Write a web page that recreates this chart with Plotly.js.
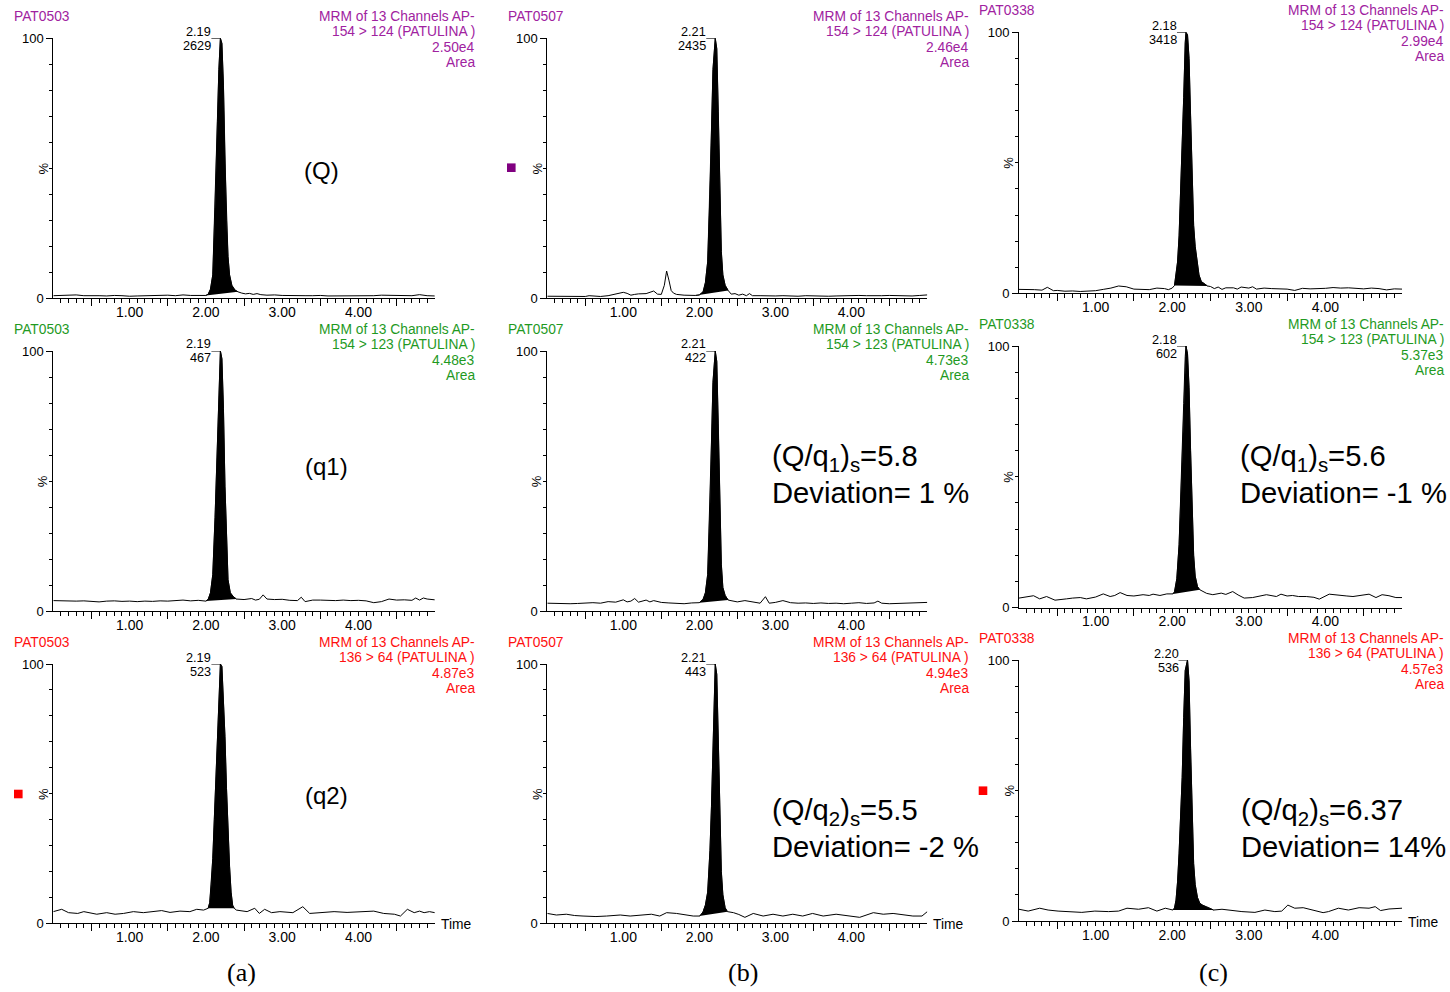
<!DOCTYPE html>
<html><head><meta charset="utf-8">
<script src="https://cdn.plot.ly/plotly-3.0.1.min.js"></script>
<style>html,body{margin:0;padding:0;background:#fff}#chart{width:1450px;height:992px}</style>
</head><body><div id="chart"></div>
<script>
// ---------- DATA ----------
const sampleNames = ['PAT0503', 'PAT0507', 'PAT0338'];
const channelLabels = ['154 > 124 (PATULINA )', '154 > 123 (PATULINA )', '136 > 64 (PATULINA )'];
const headerLine = 'MRM of 13 Channels AP-';
const areas = [['2.50e4', '2.46e4', '2.99e4'], ['4.48e3', '4.73e3', '5.37e3'], ['4.87e3', '4.94e3', '4.57e3']];
const peakRT = [[2.19, 2.21, 2.18], [2.19, 2.21, 2.18], [2.19, 2.21, 2.20]];
const peakHeight = [[2629, 2435, 3418], [467, 422, 602], [523, 443, 536]];
const xTickVals = [1, 2, 3, 4];
const xTickText = ['1.00', '2.00', '3.00', '4.00'];
const panelLetters = ['(a)', '(b)', '(c)'];
const ionLabels = ['(Q)', '(q1)', '(q2)'];
const ratioText = [[null, '(Q/q<sub>1</sub>)<sub>s</sub>=5.8', '(Q/q<sub>1</sub>)<sub>s</sub>=5.6'],
                   [null, '(Q/q<sub>2</sub>)<sub>s</sub>=5.5', '(Q/q<sub>2</sub>)<sub>s</sub>=6.37']];
const deviationText = [[null, 'Deviation= 1 %', 'Deviation= -1 %'], [null, 'Deviation= -2 %', 'Deviation= 14%']];

// row 1 (154>124)
const t_aQ = [0,0.1,0.2,0.3,0.4,0.5,0.6,0.7,0.8,0.9,1.0,1.1,1.2,1.3,1.4,1.5,1.6,1.7,1.8,1.9,2.0,
  2.03,2.06,2.09,2.12,2.15,2.17,2.19,2.21,2.23,2.25,2.27,2.29,2.31,2.34,2.38,2.42,2.47,2.52,2.57,2.62,2.67,2.72,
  2.8,2.9,3.0,3.1,3.2,3.3,3.4,3.5,3.6,3.7,3.8,3.9,4.0,4.1,4.2,4.3,4.4,4.5,4.6,4.7,4.8,4.9,5.0];
const y_aQ = [1.0,1.1,1.0,1.3,1.0,1.1,1.0,0.9,1.1,1.0,0.8,0.9,1.0,1.1,1.0,1.2,1.0,1.3,1.1,1.2,1.1,
  1.6,3.5,9,35,68,88,100,98,82,52,30,16,9,5,3.2,2.5,2.0,1.7,1.9,1.5,1.8,1.4,
  1.2,1.3,1.1,1.0,1.1,1.0,1.0,1.1,0.9,0.9,1.0,1.1,0.9,1.1,1.0,1.2,1.1,1.0,1.1,1.0,1.4,1.0,0.9];
const fill_aQ = [2.0, 2.42];

const t_bQ = [0,0.1,0.2,0.3,0.4,0.5,0.55,0.6,0.7,0.8,0.9,0.95,1.0,1.05,1.1,1.15,1.2,1.3,1.35,1.4,1.45,1.5,
  1.54,1.57,1.6,1.63,1.66,1.7,1.8,1.9,1.95,2.0,2.05,2.08,2.11,2.14,2.16,2.18,2.21,2.23,2.25,2.27,2.29,2.31,2.34,2.38,2.42,
  2.47,2.52,2.57,2.62,2.66,2.7,2.8,2.9,3.0,3.1,3.2,3.3,3.4,3.5,3.6,3.7,3.8,3.9,4.0,4.1,4.2,4.3,4.4,4.5,4.6,4.7,4.8,4.9,5.0];
const y_bQ = [0.8,0.8,0.7,0.8,0.7,0.7,1.0,0.9,0.7,1.0,1.6,1.9,2.3,1.9,1.2,1.5,1.7,1.8,2.2,2.8,1.6,1.5,
  5,10.5,7,3,2,1.5,1.2,1.1,1.1,1.3,2.5,6,14,40,65,88,100,96,72,42,18,9,5,3,1.6,
  1.8,1.2,1.6,1.0,1.8,1.0,1.0,0.9,0.9,1.0,0.9,0.8,1.0,0.9,1.0,0.8,0.9,1.0,1.0,1.1,1.0,0.9,1.0,1.1,1.0,1.0,0.9,1.1,1.3];
const fill_bQ = [1.95, 2.38];

const t_cQ = [0,0.1,0.2,0.3,0.37,0.45,0.5,0.6,0.7,0.8,0.9,1.0,1.1,1.2,1.3,1.4,1.5,1.6,1.7,1.8,1.9,1.95,2.0,
  2.03,2.05,2.07,2.09,2.11,2.13,2.15,2.17,2.18,2.20,2.22,2.24,2.26,2.28,2.30,2.32,2.35,2.38,2.42,2.46,2.5,
  2.55,2.6,2.65,2.7,2.8,2.85,2.9,3.0,3.05,3.1,3.2,3.3,3.4,3.5,3.6,3.7,3.8,3.9,4.0,4.1,4.2,4.3,4.4,4.5,4.6,4.7,4.8,4.9,5.0];
const y_cQ = [1.5,1.5,1.4,1.2,2.3,1.0,1.1,0.8,0.9,0.7,0.8,1.0,1.5,2.0,2.8,2.5,1.6,1.6,1.4,2.0,1.8,1.4,2.0,
  3,7,12,22,38,52,75,96,100,99,90,68,46,26,18,13,7,4.5,3.5,2.8,2.6,
  1.8,2.4,1.5,2.1,2.1,1.6,2.4,2.0,2.5,1.6,2.0,1.8,1.8,1.6,1.1,1.9,1.7,1.7,1.9,2.2,2.0,2.1,1.8,1.7,2.0,1.8,1.3,1.7,1.6];
const fill_cQ = [2.03, 2.46];

// row 2 (154>123)
const t_aq1 = [0,0.1,0.2,0.3,0.4,0.5,0.6,0.7,0.8,0.9,1.0,1.1,1.2,1.3,1.4,1.5,1.6,1.7,1.8,1.9,2.0,
  2.03,2.06,2.09,2.12,2.15,2.17,2.19,2.21,2.23,2.25,2.27,2.29,2.32,2.36,2.4,
  2.5,2.6,2.65,2.7,2.75,2.8,2.9,3.0,3.1,3.2,3.25,3.3,3.4,3.5,3.6,3.7,3.8,3.9,4.0,4.1,4.2,4.3,4.4,4.5,4.6,4.7,4.75,4.8,4.85,4.9,5.0];
const y_aq1 = [4.0,3.9,4.0,3.8,3.9,3.7,3.5,3.8,3.9,3.7,3.8,3.6,3.8,3.7,3.9,3.8,3.9,4.2,3.9,4.1,3.8,
  4.5,7,14,36,66,88,100,97,78,48,25,12,7,5.5,4.6,
  4.4,4.8,4.2,4.5,6.2,4.6,4.4,4.5,4.1,4.0,5.3,3.6,4.2,4.2,4.1,4.0,4.2,4.0,4.1,3.9,3.2,3.6,4.6,4.2,4.3,4.1,5.0,4.2,5.0,4.6,4.3];
const fill_aq1 = [2.0, 2.4];

const t_bq1 = [0,0.1,0.2,0.3,0.4,0.5,0.6,0.7,0.8,0.9,1.0,1.05,1.1,1.15,1.2,1.3,1.35,1.4,1.45,1.5,1.6,1.7,1.8,1.9,2.0,
  2.05,2.08,2.11,2.14,2.16,2.18,2.21,2.23,2.25,2.27,2.29,2.31,2.34,2.38,
  2.45,2.5,2.6,2.7,2.8,2.87,2.92,3.0,3.1,3.2,3.3,3.4,3.5,3.6,3.7,3.8,3.9,4.0,4.1,4.2,4.3,4.35,4.4,4.5,4.6,4.7,4.8,4.9,5.0];
const y_bq1 = [3.0,2.9,3.0,2.8,2.9,3.1,3.2,3.0,3.6,3.4,4.3,3.5,3.8,4.8,3.4,4.2,3.5,4.0,3.6,3.3,3.1,3.0,2.8,3.1,3.2,
  4.5,7,14,40,65,88,100,96,72,42,18,9,6,4.2,
  3.8,3.5,4.0,3.5,3.0,5.5,3.0,3.3,4.0,3.2,3.0,3.1,2.9,3.1,2.9,3.0,2.8,3.0,3.2,2.9,3.1,3.8,3.0,2.8,2.9,3.0,2.9,3.2,3.3];
const fill_bq1 = [2.0, 2.38];

const t_cq1 = [0,0.1,0.19,0.27,0.36,0.47,0.55,0.62,0.7,0.8,0.88,1.0,1.1,1.19,1.25,1.32,1.41,1.5,1.62,1.7,
  1.75,1.84,1.93,2.01,2.03,2.06,2.09,2.12,2.15,2.17,2.18,2.20,2.22,2.24,2.26,2.28,2.30,2.33,2.36,2.40,
  2.45,2.53,2.58,2.64,2.7,2.79,2.86,2.94,3.05,3.15,3.23,3.36,3.42,3.5,3.57,3.65,3.75,3.85,3.92,4.05,
  4.19,4.28,4.36,4.47,4.57,4.66,4.74,4.83,4.92,5.0];
const y_cq1 = [3.6,4.0,4.5,3.3,4.2,2.8,3.2,3.3,3.6,3.8,3.3,4.0,5.2,4.2,4.6,5.7,4.6,4.4,4.9,4.6,
  5.1,4.6,5.2,5.2,6,11,24,48,78,96,100,97,84,60,36,20,12,8,6.8,6.1,
  5.4,4.9,5.2,5.5,5.0,6.1,4.8,3.6,3.8,4.5,4.9,4.2,5.1,4.4,4.6,4.2,4.2,3.9,3.2,5.1,
  4.5,4.4,4.2,4.8,5.1,3.8,4.9,4.5,3.8,3.8];
const fill_cq1 = [2.01, 2.36];

// row 3 (136>64)
const t_aq2 = [0,0.11,0.2,0.32,0.4,0.57,0.7,0.81,0.92,1.05,1.18,1.29,1.42,1.53,1.66,1.79,1.88,1.97,2.03,2.05,
  2.07,2.09,2.11,2.13,2.15,2.17,2.19,2.21,2.23,2.25,2.27,2.29,2.31,2.33,2.35,2.37,2.4,2.54,2.64,2.7,
  2.77,2.86,2.97,3.14,3.27,3.36,3.5,3.68,3.85,4.03,4.2,4.33,4.47,4.55,4.64,4.73,4.8,4.86,4.93,5.0];
const y_aq2 = [4.5,5.4,4.1,3.8,4.5,3.5,4.1,3.5,3.8,4.5,4.1,4.5,4.9,4.2,4.7,4.5,5.4,5.1,5.8,8,
  15,25,40,55,72,90,100,99,88,72,52,36,22,12,7,5.8,5.1,4.5,5.8,3.8,
  5.4,4.1,4.5,4.1,6.4,3.8,4.1,4.5,4.2,4.5,4.7,3.8,3.5,2.8,5.4,4.1,4.7,4.1,4.5,4.1];
const fill_aq2 = [2.03, 2.37];

const t_bq2 = [0,0.12,0.25,0.36,0.47,0.64,0.78,0.96,1.09,1.22,1.37,1.48,1.57,1.7,1.83,1.92,2.0,2.02,2.05,2.08,
  2.11,2.14,2.16,2.18,2.20,2.21,2.23,2.25,2.27,2.29,2.31,2.34,2.37,2.45,2.52,2.6,2.71,2.84,2.97,3.1,
  3.23,3.36,3.49,3.63,3.8,3.98,4.11,4.29,4.42,4.55,4.68,4.81,4.93,5.0];
const y_bq2 = [3.8,3.2,3.5,3.0,2.8,2.6,2.8,3.2,2.8,3.2,3.5,2.8,4.1,3.8,3.2,2.8,2.8,3.2,4.5,7,
  12,28,45,70,92,100,96,70,40,20,11,6,4.5,4.1,3.4,2.3,3.8,2.8,3.5,2.8,
  3.5,2.8,3.8,2.8,3.5,2.8,2.3,4.1,3.5,3.8,3.2,2.8,2.8,4.5];
const fill_bq2 = [2.0, 2.37];

const t_cq2 = [0,0.12,0.27,0.38,0.51,0.64,0.82,0.99,1.17,1.3,1.41,1.56,1.69,1.8,1.91,2.01,2.03,2.05,2.07,2.09,
  2.11,2.13,2.15,2.17,2.20,2.22,2.24,2.26,2.28,2.30,2.33,2.36,2.40,2.45,2.50,2.54,2.65,2.78,2.91,3.08,
  3.21,3.34,3.43,3.51,3.6,3.71,3.82,3.97,4.04,4.17,4.3,4.44,4.57,4.65,4.72,4.83,5.0];
const y_cq2 = [4.5,3.8,4.9,4.2,3.8,3.6,3.3,3.8,3.6,3.8,4.9,4.5,5.1,3.8,4.9,4.2,5,8,15,26,
  40,55,78,96,100,92,66,40,22,14,9,6.8,6.0,5.4,4.6,4.2,4.5,4.0,3.6,3.3,
  4.2,3.6,3.8,6.1,4.9,5.1,4.2,3.2,3.6,4.9,4.2,5.1,4.9,5.5,4.0,4.6,4.9];
const fill_cq2 = [2.01, 2.54];

// ---------- LAYOUT GEOMETRY (pixels) ----------
const W = 1450, H = 992;
const SANS = 'Liberation Sans, Arial, sans-serif';
const SERIF = 'Liberation Serif, Times New Roman, serif';
const colX = [[53.3, 434.8], [547.3, 927.3], [1019, 1402]];
const rowYab = [[38.3, 298.3], [351, 611], [664, 923.3]];
const rowYc = [[32.3, 293.3], [346, 607.5], [660, 921]];
const headerRight = [475, 968.5, 1444];
const sampleLeft = [12, 506, 977];
const rowColors = ['#a0229f', '#1f9a1f', '#ff1010'];

const panels = [
  [[t_aQ, y_aQ, fill_aQ], [t_bQ, y_bQ, fill_bQ], [t_cQ, y_cQ, fill_cQ]],
  [[t_aq1, y_aq1, fill_aq1], [t_bq1, y_bq1, fill_bq1], [t_cq1, y_cq1, fill_cq1]],
  [[t_aq2, y_aq2, fill_aq2], [t_bq2, y_bq2, fill_bq2], [t_cq2, y_cq2, fill_cq2]]
];

const px = v => v / W;
const py = v => 1 - v / H;

const minorX = [];
for (let i = 1; i < 50; i++) minorX.push(+(i / 10).toFixed(1));
const longX = [0.5, 1.5, 2.5, 3.5, 4.5];
const minorY = [10, 20, 30, 40, 50, 60, 70, 80, 90];

const traces = [];
const layout = {
  width: W, height: H, margin: {l: 0, r: 0, t: 0, b: 0},
  paper_bgcolor: '#fff', plot_bgcolor: 'rgba(0,0,0,0)',
  showlegend: false, hovermode: false,
  annotations: [], shapes: []
};

for (let r = 0; r < 3; r++) {
  for (let c = 0; c < 3; c++) {
    const k = r * 3 + c + 1;
    const ko = k + 9;
    const [t, y, fl] = panels[r][c];
    const [x0, x1] = colX[c];
    const [top, bot] = (c === 2 ? rowYc : rowYab)[r];
    const xa = 'x' + k, ya = 'y' + k;

    traces.push({x: t, y: y, xaxis: xa, yaxis: ya, mode: 'lines',
      line: {color: '#000', width: 1}, hoverinfo: 'skip', cliponaxis: false});
    const ft = [], fy = [];
    for (let i = 0; i < t.length; i++) {
      if (t[i] >= fl[0] - 1e-9 && t[i] <= fl[1] + 1e-9) { ft.push(t[i]); fy.push(y[i]); }
    }
    traces.push({x: ft, y: fy, xaxis: xa, yaxis: ya, mode: 'lines', fill: 'toself',
      fillcolor: '#000', line: {color: '#000', width: 0.8}, hoverinfo: 'skip'});
    traces.push({x: [], y: [], xaxis: 'x' + ko, yaxis: ya, mode: 'lines', hoverinfo: 'skip'});

    layout['xaxis' + k] = {
      domain: [px(x0), px(x1)], anchor: ya, range: [0, 5],
      showline: true, linecolor: '#000', linewidth: 1, mirror: false,
      showgrid: false, zeroline: false, fixedrange: true,
      ticks: 'outside', ticklen: 4, tickwidth: 1, tickcolor: '#000',
      tickmode: 'array', tickvals: xTickVals, ticktext: xTickText, ticklabelstandoff: -3,
      tickfont: {family: SANS, size: 14, color: '#000'},
      minor: {tickmode: 'array', tickvals: minorX, ticks: 'outside', ticklen: 4, tickwidth: 1, tickcolor: '#000', showgrid: false}
    };
    layout['xaxis' + ko] = {
      overlaying: xa, anchor: ya, side: 'bottom', range: [0, 5],
      showline: false, showgrid: false, zeroline: false, fixedrange: true,
      ticks: 'outside', ticklen: 7, tickwidth: 1, tickcolor: '#000',
      tickmode: 'array', tickvals: longX, showticklabels: false
    };
    layout['yaxis' + k] = {
      domain: [py(bot), py(top)], anchor: xa, range: [0, 100],
      showline: true, linecolor: '#000', linewidth: 1,
      showgrid: false, zeroline: false, fixedrange: true,
      ticks: 'outside', ticklen: 6, tickwidth: 1, tickcolor: '#000',
      tickmode: 'array', tickvals: [0, 100], ticktext: ['0', '100'],
      tickfont: {family: SANS, size: 13, color: '#000'},
      minor: {tickmode: 'array', tickvals: minorY, ticks: 'outside', ticklen: 3, tickwidth: 1, tickcolor: '#000', showgrid: false}
    };

    const col = rowColors[r];
    const A = layout.annotations;
    A.push({xref: 'paper', yref: 'paper', x: px(sampleLeft[c]), y: py(top - 22), xanchor: 'left', yanchor: 'middle',
      text: sampleNames[c], showarrow: false, font: {family: SANS, size: 13.8, color: col}});
    const hdr = [headerLine, channelLabels[r], areas[r][c], 'Area'];
    const offs = [-22, -6.5, 9, 24.5];
    for (let i = 0; i < 4; i++) {
      A.push({xref: 'paper', yref: 'paper', x: px(headerRight[c] + 2), y: py(top + offs[i]), xanchor: 'right', yanchor: 'middle',
        text: hdr[i], showarrow: false, font: {family: SANS, size: 13.8, color: col}});
    }
    // apex label: retention time above, height below, leader line at apex level
    A.push({xref: xa, yref: ya, x: peakRT[r][c], y: 100, xanchor: 'right', yanchor: 'middle',
      xshift: -7, yshift: 6.5, text: peakRT[r][c].toFixed(2), showarrow: false,
      font: {family: SANS, size: 12.7, color: '#000'}});
    A.push({xref: xa, yref: ya, x: peakRT[r][c], y: 100, xanchor: 'right', yanchor: 'middle',
      xshift: -7, yshift: -7.5, text: String(peakHeight[r][c]), showarrow: false,
      font: {family: SANS, size: 12.7, color: '#000'}});
    layout.shapes.push({type: 'line', xref: xa, yref: ya, xsizemode: 'pixel', xanchor: peakRT[r][c],
      x0: -9, x1: 0, y0: 100, y1: 100, line: {color: '#000', width: 1}});
    // % label
    A.push({xref: 'paper', yref: ya, x: px(x0 - 10), y: 50, text: '%', textangle: -90, showarrow: false,
      xanchor: 'center', yanchor: 'middle', font: {family: SANS, size: 13, color: '#000'}});
    if (r === 2) {
      A.push({xref: 'paper', yref: 'paper', x: px(x1 + 4), y: py(bot + 1), xanchor: 'left', yanchor: 'middle',
        text: 'Time', showarrow: false, font: {family: SANS, size: 13.8, color: '#000'}});
    }
  }
}

const A = layout.annotations;
// ion labels in column (a)
const ionPos = [[321, 170], [326, 466], [326, 795]];
for (let r = 0; r < 3; r++) {
  A.push({xref: 'paper', yref: 'paper', x: px(ionPos[r][0]), y: py(ionPos[r][1]), xanchor: 'center', yanchor: 'middle',
    text: ionLabels[r], showarrow: false, font: {family: SANS, size: 24, color: '#000'}});
}
// ratio / deviation text
const ratioLeft = [[770, 1238], [770, 1239]];
const ratioY = [[458, 493], [812, 847]];
for (let i = 0; i < 2; i++) {
  for (let c = 1; c < 3; c++) {
    A.push({xref: 'paper', yref: 'paper', x: px(ratioLeft[i][c - 1]), y: py(ratioY[i][0]), xanchor: 'left', yanchor: 'middle',
      text: ratioText[i][c], showarrow: false, font: {family: SANS, size: 29.2, color: '#000'}});
    A.push({xref: 'paper', yref: 'paper', x: px(ratioLeft[i][c - 1]), y: py(ratioY[i][1]), xanchor: 'left', yanchor: 'middle',
      text: deviationText[i][c], showarrow: false, font: {family: SANS, size: 29.2, color: '#000'}});
  }
}
// panel letters
const letterX = [242, 743, 1213];
for (let c = 0; c < 3; c++) {
  A.push({xref: 'paper', yref: 'paper', x: px(letterX[c]), y: py(972), xanchor: 'center', yanchor: 'middle',
    text: panelLetters[c], showarrow: false, font: {family: SERIF, size: 26, color: '#000'}});
}
// small coloured channel markers
const markers = [[511.3, 167.7, '#800080'], [18.3, 794, '#ff0000'], [983, 790.7, '#ff0000']];
for (const m of markers) {
  layout.shapes.push({type: 'rect', xref: 'paper', yref: 'paper', x0: px(m[0] - 4.3), x1: px(m[0] + 4.3),
    y0: py(m[1] + 4.3), y1: py(m[1] - 4.3), fillcolor: m[2], line: {width: 0}});
}

Plotly.newPlot('chart', traces, layout, {displayModeBar: false, staticPlot: true});
</script>
</body></html>
